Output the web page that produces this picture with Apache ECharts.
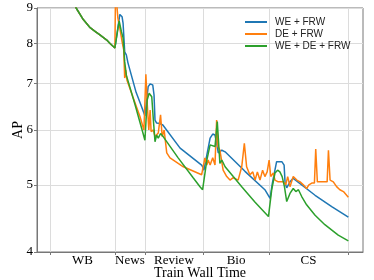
<!DOCTYPE html>
<html><head><meta charset="utf-8">
<script src="https://cdn.jsdelivr.net/npm/echarts@6/dist/echarts.min.js"></script>
<style>html,body{margin:0;padding:0;background:#fff}#c{width:374px;height:280px}</style>
</head><body><div id="c"></div>
<script>
const phaseNames = ['WB', 'News', 'Review', 'Bio', 'CS'];
const phaseBounds = [4.0, 23.9, 33.1, 50.9, 71.2, 95.4];
const yTicks = [4, 5, 6, 7, 8, 9];

// shared WB pre-training curve [time, AP]
const wbCurve = [[4.0,12.5],[7.1,10.6],[10.1,9.4],[12.0,9.0],[14.2,8.66],[16.3,8.43],[17.8,8.33],[19.3,8.23],[21.4,8.09],[22.4,8.0],[23.9,7.88]];

const weFrw = [[25.4,8.81],[26.1,8.74],[26.4,8.56],[26.9,7.78],[27.4,7.70],[27.9,7.50],[30.4,6.80],[32.0,6.50],[33.1,6.29],
 [34.1,6.93],[34.7,6.99],[35.5,6.97],[35.9,6.74],[36.2,6.20],[36.7,6.14],[37.7,6.13],[38.6,6.10],[43.9,5.65],[50.5,5.34],[51.0,5.29],
 [51.2,5.25],[53.1,5.84],[53.9,5.92],[54.6,5.90],[55.1,5.74],[55.6,5.56],[56.7,5.61],[57.7,5.58],[63.8,5.23],[69.9,4.92],[71.5,4.78],
 [72.2,5.03],[73.5,5.40],[75.1,5.40],[75.8,5.34],[76.1,5.03],[76.6,4.95],[77.6,5.05],[78.6,5.11],[85.3,4.83],[90.4,4.65],[95.5,4.49]];

const deFrw = [[24.1,9.6],[24.8,8.71],[25.4,8.42],[26.1,8.05],[26.6,7.83],[26.9,7.13],[27.2,7.32],[27.6,7.08],[29.4,6.70],[31.6,6.27],[32.8,6.0],
 [33.4,7.22],[33.8,6.56],[34.3,6.0],[34.7,6.41],[35.0,5.97],[35.7,6.0],[36.2,5.87],[37.2,5.94],[37.9,6.31],[38.4,5.87],[39.0,6.0],[39.8,5.56],
 [40.8,5.47],[44.9,5.31],[50.5,5.17],[50.9,5.14],[51.5,5.47],[52.1,5.34],[52.5,5.43],[53.1,5.34],[53.9,5.47],[54.6,5.34],[55.1,6.20],[55.5,5.68],
 [56.1,5.61],[57.1,5.25],[58.2,5.14],[59.2,5.08],[60.2,5.12],[61.7,5.08],[62.8,5.31],[63.6,5.74],[64.3,5.31],[65.3,5.17],[66.2,5.22],[66.9,5.08],
 [67.6,5.22],[68.4,5.08],[69.2,5.25],[69.9,5.14],[70.6,5.22],[71.2,5.43],[71.7,5.14],[72.5,5.20],[73.0,5.08],[74.0,5.05],[75.6,5.05],[76.3,5.00],
 [76.9,5.14],[77.6,4.97],[78.6,5.14],[79.7,5.08],[80.7,5.05],[81.7,5.00],[82.7,4.94],[83.4,5.00],[84.3,5.03],[85.1,5.03],[85.5,5.63],[86.0,5.05],
 [86.8,5.05],[88.3,5.05],[89.0,5.05],[89.4,5.61],[89.9,5.08],[90.9,5.05],[91.9,4.97],[92.9,4.92],[94.0,4.89],[95.5,4.80]];

const weDeFrw = [[25.2,8.62],[25.9,8.32],[26.4,8.15],[26.9,7.53],[27.4,7.20],[30.1,6.52],[32.5,5.94],[33.1,5.80],[33.8,6.63],[34.4,6.78],
 [35.2,6.70],[35.7,6.20],[36.2,5.77],[36.7,5.90],[37.2,5.84],[37.9,5.93],[38.7,5.87],[43.3,5.47],[47.9,5.12],[50.0,4.97],[50.8,4.92],
 [52.1,5.43],[53.1,5.71],[54.6,5.68],[55.3,6.17],[55.8,6.17],[56.1,5.37],[56.7,5.43],[57.7,5.31],[60.2,5.14],[62.8,4.97],[66.9,4.72],
 [71.0,4.50],[71.2,4.50],[72.0,4.92],[73.0,5.20],[73.8,5.25],[74.5,5.22],[75.2,5.14],[75.9,4.97],[76.6,4.73],[77.6,4.86],[78.6,4.94],
 [79.4,4.89],[80.2,4.92],[81.2,4.81],[82.7,4.68],[85.3,4.52],[88.3,4.38],[92.4,4.23],[95.5,4.15]];

const labelPos = phaseNames.map((n, i) => (phaseBounds[i] + phaseBounds[i + 1]) / 2);
const serif = 'Liberation Serif';
const chart = echarts.init(document.getElementById('c'), null, {renderer: 'canvas'});
const mk = (name, color, d) => ({
  name, type: 'line', data: wbCurve.concat(d), showSymbol: false, symbol: 'none',
  lineStyle: {color, width: 1.5}, itemStyle: {color}, clip: true, animation: false
});
chart.setOption({
  animation: false,
  grid: {left: 37, right: 11, top: 8, bottom: 28, show: true, borderColor: '#777', borderWidth: 1,
    containLabel: false, outerBoundsMode: 'none'},
  legend: {
    orient: 'vertical', left: 245, top: 17, padding: 0, icon: 'rect', itemWidth: 22, itemHeight: 2, itemGap: 2,
    textStyle: {fontFamily: 'Liberation Sans', fontSize: 10, color: '#222', padding: [0, 0, 0, 3]},
    data: ['WE + FRW', 'DE + FRW', 'WE + DE + FRW']
  },
  xAxis: {
    type: 'value', min: 0, max: 100,
    name: 'Train Wall Time', nameLocation: 'middle', nameGap: 14, nameMoveOverlap: false,
    nameTextStyle: {fontFamily: serif, fontSize: 14, color: '#000'},
    axisLine: {show: true, lineStyle: {color: '#777'}},
    axisTick: {show: true, length: 3, customValues: phaseBounds, lineStyle: {color: '#777'}},
    axisLabel: {customValues: labelPos, margin: 2, fontFamily: serif, fontSize: 13, color: '#000',
      formatter: v => { const i = labelPos.findIndex(p => Math.abs(p - v) < 1e-6); return i >= 0 ? phaseNames[i] : ''; }},
    splitLine: {show: true, lineStyle: {color: '#dcdcdc', width: 1}}
  },
  yAxis: {
    type: 'log', min: 4, max: 9, logBase: 10,
    name: 'AP', nameLocation: 'middle', nameGap: 12, nameMoveOverlap: false,
    nameTextStyle: {fontFamily: serif, fontSize: 14, color: '#000'},
    axisLine: {show: true, lineStyle: {color: '#777'}},
    axisTick: {show: true, length: 3, customValues: yTicks, lineStyle: {color: '#777'}},
    axisLabel: {customValues: yTicks, margin: 4, fontFamily: serif, fontSize: 13, color: '#000'},
    splitLine: {show: true, lineStyle: {color: '#dcdcdc', width: 1}}
  },
  series: [
    mk('WE + FRW', '#1f77b4', weFrw),
    mk('DE + FRW', '#ff7f0e', deFrw),
    mk('WE + DE + FRW', '#2ca02c', weDeFrw)
  ]
});
</script>
</body></html>
